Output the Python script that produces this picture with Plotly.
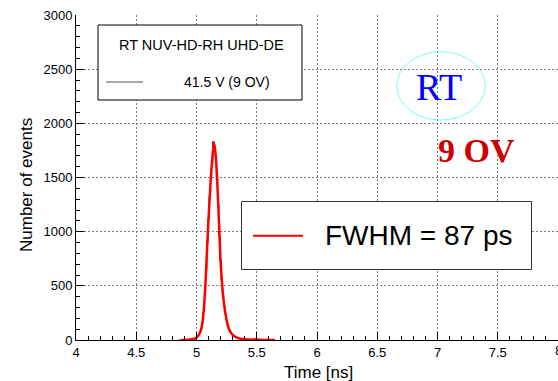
import plotly.graph_objects as go

# ---------------- data ----------------
hist_time = [4.85, 4.86, 4.87, 4.88, 4.89, 4.90, 4.91, 4.92, 4.93, 4.94,
             4.95, 4.96, 4.97, 4.98, 4.99, 5.00, 5.01, 5.02, 5.03, 5.04,
             5.05, 5.06, 5.07, 5.08, 5.09, 5.10, 5.11, 5.12, 5.13, 5.14,
             5.15, 5.16, 5.17, 5.18, 5.19, 5.20, 5.21, 5.22, 5.23, 5.24,
             5.25, 5.26, 5.27, 5.28, 5.29, 5.30, 5.31, 5.32, 5.33, 5.34,
             5.35, 5.36, 5.37, 5.38, 5.39, 5.40, 5.41, 5.42, 5.43, 5.44,
             5.45, 5.46, 5.47, 5.48, 5.49, 5.50, 5.51, 5.52, 5.53, 5.54,
             5.55, 5.56, 5.57, 5.58, 5.59, 5.60, 5.61, 5.62, 5.63, 5.64, 5.65]
hist_counts = [0, 0, 0, 1, 1, 2, 2, 3, 3, 4,
               5, 7, 9, 12, 17, 24, 35, 50, 72, 105,
               160, 260, 420, 640, 900, 1120, 1320, 1470, 1630, 1830,
               1790, 1690, 1530, 1250, 960, 730, 550, 420, 320, 240,
               180, 135, 100, 78, 60, 48, 38, 30, 24, 19,
               15, 12, 10, 8, 7, 6, 5, 5, 4, 4,
               3, 4, 6, 9, 12, 12, 9, 6, 4, 3,
               2, 2, 1, 1, 1, 1, 0, 0, 0, 0, 0]

fit_time = [4.87, 4.92, 4.96, 4.99, 5.01, 5.03, 5.05, 5.07, 5.09, 5.11,
            5.13, 5.145, 5.16, 5.18, 5.20, 5.22, 5.24, 5.27, 5.30, 5.34,
            5.40, 5.50, 5.65]
fit_counts = [0, 3, 7, 16, 34, 70, 165, 430, 900, 1330,
              1660, 1825, 1700, 1260, 730, 420, 245, 100, 48, 19,
              6, 2, 0]

x_ticks = [4, 4.5, 5, 5.5, 6, 6.5, 7, 7.5, 8]
x_tick_labels = ["4", "4.5", "5", "5.5", "6", "6.5", "7", "7.5", "8"]
y_ticks = [0, 500, 1000, 1500, 2000, 2500, 3000]
y_tick_labels = ["0", "500", "1000", "1500", "2000", "2500", "3000"]

legend_title = "RT NUV-HD-RH UHD-DE"
legend_entry = "41.5 V (9 OV)"
fwhm_text = "FWHM = 87 ps"

# ---------------- layout helpers (pixel -> paper) ----------------
W, H = 558, 381
L, R, T, B = 76, 558, 15, 340


def px(x):
    return (x - L) / (R - L)


def py(y):
    return (B - y) / (B - T)


SANS = "Liberation Sans, Arial, sans-serif"
SERIF = "Liberation Serif, Times New Roman, serif"

fig = go.Figure()
fig.add_trace(go.Scatter(x=hist_time, y=hist_counts, mode="lines",
                         line=dict(color="black", width=1, shape="hvh"),
                         showlegend=False, hoverinfo="skip"))
fig.add_trace(go.Scatter(x=fit_time, y=fit_counts, mode="lines",
                         line=dict(color="#ff0000", width=2.5, shape="spline", smoothing=0.8),
                         showlegend=False, hoverinfo="skip"))

shapes = [
    # legend box 1
    dict(type="rect", xref="paper", yref="paper", x0=px(98), x1=px(302), y0=py(100), y1=py(25),
         line=dict(color="black", width=1), fillcolor="white", layer="above"),
    dict(type="line", xref="paper", yref="paper", x0=px(106), x1=px(143), y0=py(82), y1=py(82),
         line=dict(color="#555555", width=1)),
    # FWHM box
    dict(type="rect", xref="paper", yref="paper", x0=px(241.5), x1=px(531.5), y0=py(269.5), y1=py(201.5),
         line=dict(color="#333333", width=1), fillcolor="white", layer="above"),
    dict(type="line", xref="paper", yref="paper", x0=px(253), x1=px(303), y0=py(235.7), y1=py(235.7),
         line=dict(color="#ff0000", width=2)),
    # RT ellipse
    dict(type="circle", xref="paper", yref="paper", x0=px(396.7), x1=px(485.3), y0=py(120), y1=py(51.7),
         line=dict(color="#7ff5f5", width=1), fillcolor="rgba(0,0,0,0)"),
]

annotations = [
    dict(text=legend_title, x=px(201.5), y=py(45), xref="paper", yref="paper",
         showarrow=False, xanchor="center", yanchor="middle",
         font=dict(family=SANS, size=14.5, color="black")),
    dict(text=legend_entry, x=px(226.5), y=py(82), xref="paper", yref="paper",
         showarrow=False, xanchor="center", yanchor="middle",
         font=dict(family=SANS, size=14, color="black")),
    dict(text=fwhm_text, x=px(418), y=py(236), xref="paper", yref="paper",
         showarrow=False, xanchor="center", yanchor="middle",
         font=dict(family=SANS, size=28, color="black")),
    dict(text="RT", x=px(439), y=py(87), xref="paper", yref="paper",
         showarrow=False, xanchor="center", yanchor="middle",
         font=dict(family=SERIF, size=38, color="#0000ff")),
    dict(text="<b>9 OV</b>", x=px(476), y=py(150), xref="paper", yref="paper",
         showarrow=False, xanchor="center", yanchor="middle",
         font=dict(family=SERIF, size=34, color="#cc0000")),
    dict(text="Time [ns]", x=px(318), y=py(372), xref="paper", yref="paper",
         showarrow=False, xanchor="center", yanchor="middle",
         font=dict(family=SANS, size=17, color="black")),
    dict(text="Number of events", x=px(27), y=py(185), xref="paper", yref="paper",
         showarrow=False, xanchor="center", yanchor="middle", textangle=-90,
         font=dict(family=SANS, size=17, color="black")),
    # last x tick label, half cut by the right edge as in the reference
    dict(text=x_tick_labels[-1], x=8, y=py(350.5), xref="x", yref="paper",
         showarrow=False, xanchor="center", yanchor="middle",
         font=dict(family=SANS, size=13, color="black")),
]

fig.update_layout(
    width=W, height=H,
    margin=dict(l=L, r=W - R, t=T, b=H - B, autoexpand=False),
    paper_bgcolor="white", plot_bgcolor="white",
    shapes=shapes, annotations=annotations,
    xaxis=dict(range=[4, 8], tickvals=x_ticks, ticktext=x_tick_labels,
               ticks="inside", ticklen=8, tickcolor="black", tickwidth=1,
               minor=dict(dtick=0.1, tick0=4, ticks="inside", ticklen=4, tickcolor="black", showgrid=False),
               showline=True, linecolor="black", linewidth=1, mirror=False,
               showgrid=True, gridcolor="#7a7a7a", gridwidth=1, griddash="2px,2px",
               zeroline=False, tickfont=dict(family=SANS, size=13, color="black"),
               automargin=False, fixedrange=True),
    yaxis=dict(range=[0, 3000], tickvals=y_ticks, ticktext=y_tick_labels,
               ticks="inside", ticklen=8, tickcolor="black", tickwidth=1,
               minor=dict(dtick=100, tick0=0, ticks="inside", ticklen=4, tickcolor="black", showgrid=False),
               showline=True, linecolor="black", linewidth=1, mirror=False,
               showgrid=True, gridcolor="#7a7a7a", gridwidth=1, griddash="2px,2px",
               zeroline=False, tickfont=dict(family=SANS, size=13, color="black"),
               automargin=False, fixedrange=True),
)

fig.write_html("out.html", config={"displayModeBar": False},
               post_script="document.body.style.margin='0px';document.body.style.overflow='hidden';")
